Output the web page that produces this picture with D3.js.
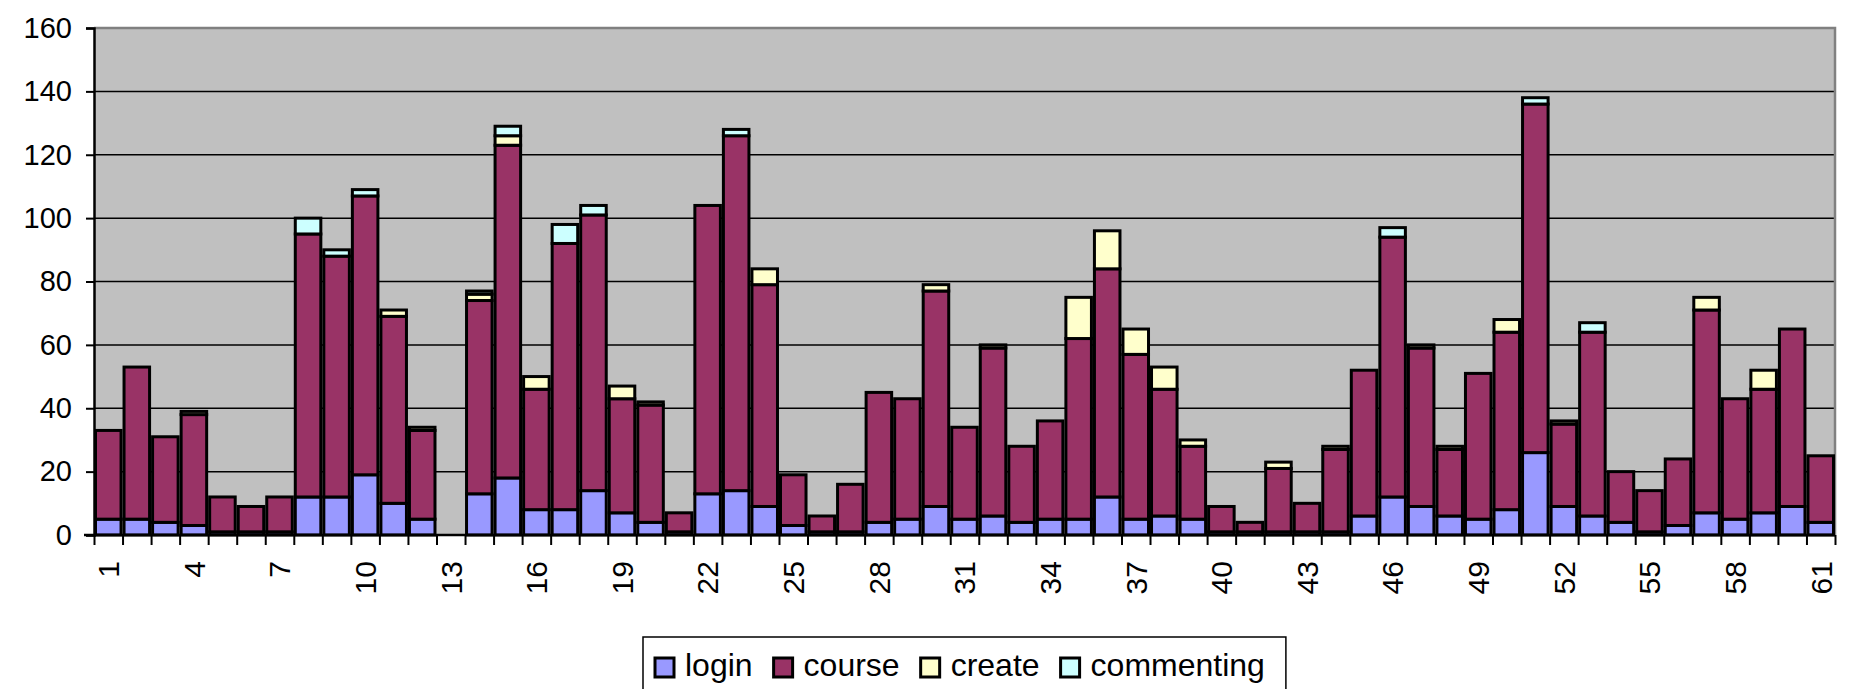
<!DOCTYPE html>
<head>
  <style>
    body { margin: 0; background: #fff; }
    text { font-family: "Liberation Sans", Arial, sans-serif; fill: #000; }
  </style>
</head>
<title>login / course / create / commenting</title>
<body>
<script src="https://cdn.jsdelivr.net/npm/d3@7"></script>
<script>

// categories 1..61
var categories = d3.range(1, 62).map(String);

var login = [5,5,4,3,1,1,1,12,12,19, 10,5,0,13,18,8,8,14,7,4, 1,13,14,9,3,1,1,4,5,9,
             5,6,4,5,5,12,5,6,5,1, 1,1,1,1,6,12,9,6,5,8, 26,9,6,4,1,3,7,5,7,9, 4];
var course = [28,48,27,35,11,8,11,83,76,88, 59,28,0,61,105,38,84,87,36,37, 6,91,112,70,16,5,15,41,38,68,
              29,53,24,31,57,72,52,40,23,8, 3,20,9,26,46,82,50,21,46,56, 110,26,58,16,13,21,64,38,39,56, 21];
var create = [0,0,0,1,0,0,0,0,0,0, 2,1,0,2,3,4,0,0,4,1, 0,0,0,5,0,0,0,0,0,2,
              0,1,0,0,13,12,8,7,2,0, 0,2,0,1,0,0,1,1,0,4, 0,1,0,0,0,0,4,0,6,0, 0];
var commenting = [0,0,0,0,0,0,0,5,2,2, 0,0,0,1,3,0,6,3,0,0, 0,0,2,0,0,0,0,0,0,0,
                  0,0,0,0,0,0,0,0,0,0, 0,0,0,0,0,3,0,0,0,0, 2,0,3,0,0,0,0,0,0,0, 0];

var seriesNames = ["login", "course", "create", "commenting"];
var seriesColors = ["#9999ff", "#993366", "#ffffcc", "#ccffff"];
var yTicks = [0, 20, 40, 60, 80, 100, 120, 140, 160];
var xLabels = categories.filter(function(d, i) { return i % 3 == 0; });

var W = 1852, H = 689;
var m = {t: 28, l: 94};
var w = 1741;
var h = 507;

var rows = categories.map(function(c, i) {
  return {cat: c, login: login[i], course: course[i], create: create[i], commenting: commenting[i]};
});

var x = d3.scaleBand().domain(categories).range([0, w]).padding(0);
var y = d3.scaleLinear().domain([0, 160]).range([h, 0]);
var color = d3.scaleOrdinal().domain(seriesNames).range(seriesColors);

var svg = d3.select("body").append("svg")
    .attr("width", W)
    .attr("height", H);

var g = svg.append("g")
    .attr("transform", "translate(" + m.l + "," + m.t + ")");

// plot background
g.append("rect")
    .attr("x", 0).attr("y", 0)
    .attr("width", w).attr("height", h)
    .attr("fill", "#c0c0c0");

// gridlines
g.append("g")
  .selectAll("line")
    .data(yTicks.filter(function(d) { return d > 0 && d < 160; }))
  .enter().append("line")
    .attr("x1", 0).attr("x2", w)
    .attr("y1", function(d) { return y(d); })
    .attr("y2", function(d) { return y(d); })
    .attr("stroke", "#000")
    .attr("stroke-width", 1.5);

// top + right border (grey)
g.append("path")
    .attr("d", "M0," + y(160) + "H" + w + "V" + h)
    .attr("fill", "none")
    .attr("stroke", "#808080")
    .attr("stroke-width", 2.5);

// stacked bars
var stack = d3.stack().keys(seriesNames);
var layers = stack(rows);

g.selectAll("g.layer")
    .data(layers)
  .enter().append("g")
    .attr("class", "layer")
    .attr("fill", function(d) { return color(d.key); })
  .selectAll("rect")
    .data(function(d) { return d.filter(function(p) { return p[1] - p[0] > 0; }); })
  .enter().append("rect")
    .attr("x", function(d) { return x(d.data.cat) + 1.5; })
    .attr("width", x.bandwidth() - 3)
    .attr("y", function(d) { return y(d[1]); })
    .attr("height", function(d) { return y(d[0]) - y(d[1]); })
    .attr("stroke", "#000")
    .attr("stroke-width", 3);

// y axis
var yAxis = d3.axisLeft(y).tickValues(yTicks).tickSize(8).tickPadding(14);
var ya = g.append("g").call(yAxis);
ya.select(".domain").attr("stroke", "#000").attr("stroke-width", 2.5);
ya.selectAll(".tick line").attr("stroke", "#000").attr("stroke-width", 2);
ya.selectAll(".tick text")
    .style("font-size", "29px")
    .attr("fill", "#000");

// x axis: tick marks at category boundaries
var xb = d3.scaleLinear().domain([0, categories.length]).range([0, w]);
var xTickAxis = d3.axisBottom(xb).tickValues(d3.range(0, categories.length + 1))
    .tickSize(10).tickSizeOuter(0).tickFormat("");
var xa = g.append("g")
    .attr("transform", "translate(0," + h + ")")
    .call(xTickAxis);
xa.select(".domain").attr("stroke", "#000").attr("stroke-width", 2.5)
    .attr("d", "M-10,0H" + w);
xa.selectAll(".tick line").attr("stroke", "#000").attr("stroke-width", 2);

// x axis labels, rotated
var xLabelAxis = d3.axisBottom(x).tickValues(xLabels).tickSize(0);
var xl = g.append("g")
    .attr("transform", "translate(0," + h + ")")
    .call(xLabelAxis);
xl.select(".domain").remove();
xl.selectAll(".tick text")
    .style("font-size", "30px")
    .attr("fill", "#000")
    .attr("transform", "rotate(-90)")
    .attr("text-anchor", "end")
    .attr("x", -26)
    .attr("y", 0)
    .attr("dy", "0.36em");

// legend
var legend = svg.append("g");
var box = legend.append("rect")
    .attr("x", 643).attr("y", 637)
    .attr("height", 70)
    .attr("fill", "#fff")
    .attr("stroke", "#000")
    .attr("stroke-width", 1.5);

var lx = 655;
seriesNames.forEach(function(s) {
  legend.append("rect")
      .attr("x", lx).attr("y", 658)
      .attr("width", 19).attr("height", 19)
      .attr("fill", color(s))
      .attr("stroke", "#000")
      .attr("stroke-width", 3);
  var t = legend.append("text")
      .attr("x", lx + 30)
      .attr("y", 676)
      .style("font-size", "32px")
      .text(s);
  lx = lx + 30 + t.node().getComputedTextLength() + 21;
});
box.attr("width", lx - 643);

</script>
</body>
